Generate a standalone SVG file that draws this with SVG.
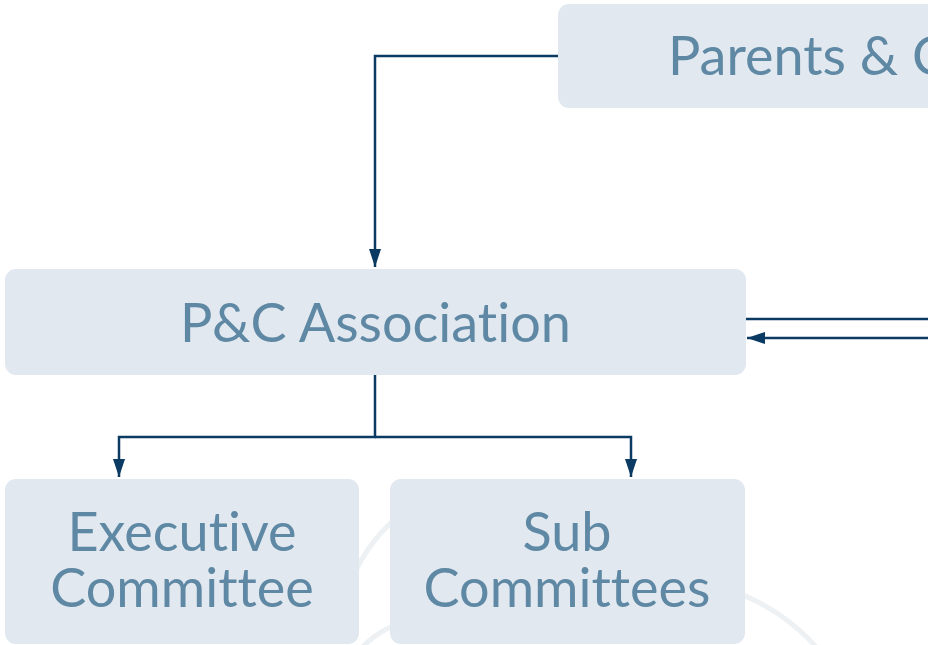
<svg xmlns="http://www.w3.org/2000/svg" width="928" height="645" viewBox="0 0 928 645">
<defs>
<style>
.node{fill:#e1e8f0}
.lbl{font-family:Lato,"Noto Sans",sans-serif;font-size:54px;fill:#5e88a3;font-variant-ligatures:none}
.conn{fill:none;stroke:#0b3a63;stroke-width:2.5}
.deco{fill:none;stroke:#eef1f4;stroke-width:5}
</style>
<marker id="ah" viewBox="0 0 18 12" refX="18" refY="6" markerWidth="18" markerHeight="12" markerUnits="userSpaceOnUse" orient="auto">
<path d="M0,0 L18,6 L0,12 Z" fill="#0b3a63"/>
</marker>
</defs>
<rect width="928" height="645" fill="#ffffff"/>
<g id="decoration">
<path class="deco" d="M420,501.4 A160,160 0 0,0 340,640"/>
<path class="deco" d="M340,690 A88,88 0 0,1 420,620"/>
<path class="deco" d="M620,585 A201,201 0 0,1 840,680"/>
</g>
<g id="connectors">
<path class="conn" d="M558,56 H375 V267" marker-end="url(#ah)"/>
<path class="conn" d="M375,375 V437 H119 V477" marker-end="url(#ah)"/>
<path class="conn" d="M375,437 H631 V477" marker-end="url(#ah)"/>
<path class="conn" d="M746,319 H928"/>
<path class="conn" d="M928,338 H747" marker-end="url(#ah)"/>
</g>
<g id="parents">
<rect class="node" x="558" y="4" width="420" height="104" rx="11"/>
<text class="lbl" x="668" y="75">Parents &amp; Citizens</text>
</g>
<g id="association">
<rect class="node" x="5" y="269" width="741" height="106" rx="11"/>
<text class="lbl" x="375.5" y="342" text-anchor="middle">P&amp;C Association</text>
</g>
<g id="executive">
<rect class="node" x="5" y="479" width="354" height="165" rx="11"/>
<text class="lbl" text-anchor="middle"><tspan x="182" y="551">Executive</tspan><tspan x="182" y="607">Committee</tspan></text>
</g>
<g id="sub">
<rect class="node" x="390" y="479" width="355" height="165" rx="11"/>
<text class="lbl" text-anchor="middle"><tspan x="567" y="551">Sub</tspan><tspan x="567" y="607">Committees</tspan></text>
</g>
</svg>
